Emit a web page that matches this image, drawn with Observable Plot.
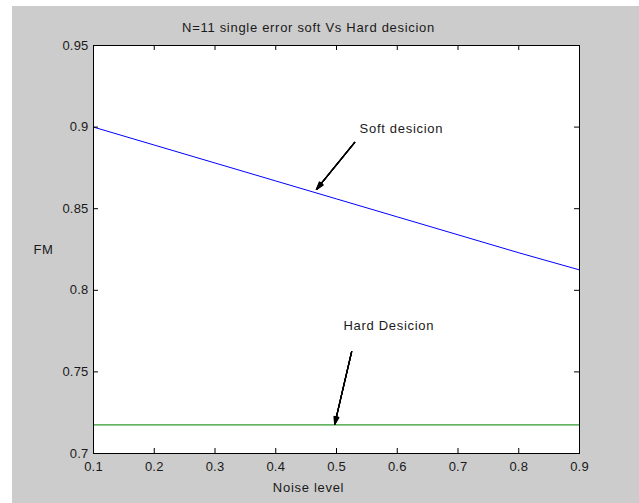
<!DOCTYPE html>
<html>
<head>
<meta charset="utf-8">
<script src="https://cdn.jsdelivr.net/npm/d3@7"></script>
<script src="https://cdn.jsdelivr.net/npm/@observablehq/plot@0.6"></script>
<style>
  html, body { margin: 0; padding: 0; background: #ffffff; }
  #fig { position: absolute; left: 12px; top: 6px; width: 627px; height: 497px; background: #cccccc; }
  svg { font-family: "Liberation Sans", Arial, sans-serif; }
  svg text { letter-spacing: 0.7px; }
  svg g[aria-label$="tick label"] text { letter-spacing: 0.2px; }
</style>
</head>
<body>
<div id="fig"></div>
<script>
const noise = [0.1, 0.2, 0.3, 0.4, 0.5, 0.6, 0.7, 0.8, 0.9];
const softFM = [0.9, 0.889, 0.878, 0.867, 0.856, 0.845, 0.834, 0.823, 0.8125];
const hardFM = [0.7176, 0.7176, 0.7176, 0.7176, 0.7176, 0.7176, 0.7176, 0.7176, 0.7176];
const xTicks = [0.1, 0.2, 0.3, 0.4, 0.5, 0.6, 0.7, 0.8, 0.9];
const yTicks = [0.7, 0.75, 0.8, 0.85, 0.9, 0.95];
const yTickLabels = ["0.7", "0.75", "0.8", "0.85", "0.9", "0.95"];
const titleText = "N=11 single error soft Vs Hard desicion";
const xLabel = "Noise level";
const yLabel = "FM";
const notes = [
  {label: "Soft desicion", x: 0.538, y: 0.899, x1: 0.530, y1: 0.8906, x2: 0.467, y2: 0.8618},
  {label: "Hard Desicion", x: 0.5115, y: 0.7784, x1: 0.525, y1: 0.7625, x2: 0.497, y2: 0.7178}
];
const headAngles = [36, 28, 20, 12, 5];

const soft = noise.map((x, i) => ({x, y: softFM[i]}));
const hard = noise.map((x, i) => ({x, y: hardFM[i]}));

const W = 627, H = 497;
const mL = 81, mR = 60, mT = 39, mB = 50;
const innerH = H - mT - mB, innerW = W - mL - mR;
const tk = 5;
const fs = 13;
const ink = "#1a1a1a";

const chart = Plot.plot({
  width: W,
  height: H,
  marginLeft: mL,
  marginRight: mR,
  marginTop: mT,
  marginBottom: mB,
  style: {background: "transparent", fontSize: fs + "px", fontFamily: "Liberation Sans, Arial, sans-serif", color: ink},
  x: {domain: [0.1, 0.9]},
  y: {domain: [0.7, 0.95]},
  marks: [
    Plot.rect([0], {x1: 0.1, x2: 0.9, y1: 0.7, y2: 0.95, fill: "white"}),
    Plot.line(soft, {x: "x", y: "y", stroke: "#0000ff", strokeWidth: 1}),
    Plot.line(hard, {x: "x", y: "y", stroke: "#2f9a2f", strokeWidth: 1.2}),
    // inward ticks on all four sides
    Plot.ruleX(xTicks, {x: d => d, insetTop: innerH - tk, stroke: "#000"}),
    Plot.ruleX(xTicks, {x: d => d, insetBottom: innerH - tk, stroke: "#000"}),
    Plot.ruleY(yTicks, {y: d => d, insetRight: innerW - tk, stroke: "#000"}),
    Plot.ruleY(yTicks, {y: d => d, insetLeft: innerW - tk, stroke: "#000"}),
    Plot.frame({stroke: "#000", strokeWidth: 1}),
    Plot.axisX(xTicks, {tickSize: 0, tickPadding: 8, fontSize: fs, tickFormat: d => String(d), label: null, fill: ink}),
    Plot.axisY(yTicks, {tickSize: 0, tickPadding: 5, fontSize: fs, tickFormat: d => yTickLabels[yTicks.indexOf(d)], label: null, fill: ink}),
    Plot.text([titleText], {frameAnchor: "top", lineAnchor: "middle", textAnchor: "middle", dx: -28, dy: -18, text: d => d, fontSize: fs, fill: ink}),
    Plot.text([xLabel], {frameAnchor: "bottom", lineAnchor: "middle", textAnchor: "middle", dx: -28, dy: 34, text: d => d, fontSize: fs, fill: ink}),
    Plot.text([yLabel], {frameAnchor: "left", lineAnchor: "middle", textAnchor: "middle", dx: -50, text: d => d, fontSize: fs, fill: ink}),
    Plot.text(notes, {x: "x", y: "y", text: "label", textAnchor: "start", fontSize: fs, fill: ink}),
    ...headAngles.map(a => Plot.arrow(notes, {x1: "x1", y1: "y1", x2: "x2", y2: "y2", stroke: "#000", strokeWidth: 1.2, headLength: 10, headAngle: a}))
  ]
});
document.getElementById("fig").appendChild(chart);
</script>
</body>
</html>
